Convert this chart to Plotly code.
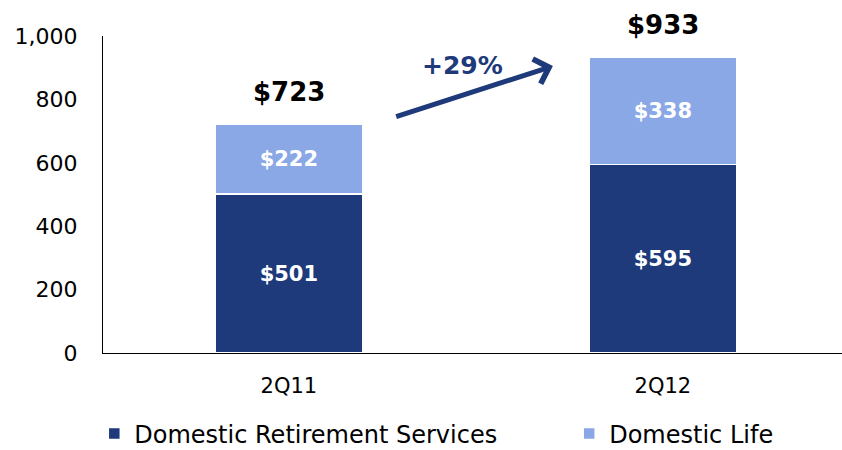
import plotly.graph_objects as go

categories = ["2Q11", "2Q12"]
retirement = [501, 595]
life = [222, 338]
totals = [723, 933]
growth_label = "+29%"
y_ticks = [0, 200, 400, 600, 800, 1000]
y_tick_labels = ["0", "200", "400", "600", "800", "1,000"]

DARK = "#1E3A7B"
LIGHT = "#8AA8E6"
FONT = "DejaVu Sans"
CLEAR = "rgba(0,0,0,0)"

fig = go.Figure()
fig.add_trace(go.Bar(
    x=categories, y=retirement, name="Domestic Retirement Services",
    marker=dict(color=DARK, line=dict(color="white", width=1.5)),
    text=["$" + str(v) for v in retirement], textposition="inside",
    insidetextanchor="middle",
    textfont=dict(color="white", size=21, family=FONT, weight="bold"),
    width=0.393, legend="legend",
))
fig.add_trace(go.Bar(
    x=categories, y=life, name="Domestic Life",
    marker=dict(color=LIGHT, line=dict(color="white", width=1.5)),
    text=["$" + str(v) for v in life], textposition="inside",
    insidetextanchor="middle",
    textfont=dict(color="white", size=21, family=FONT, weight="bold"),
    width=0.393, legend="legend2",
))

for c, t in zip(categories, totals):
    fig.add_annotation(x=c, y=t, text="$" + str(t), showarrow=False,
                       yanchor="bottom", yshift=15,
                       font=dict(size=26, color="black", family=FONT, weight="bold"))

# growth arrow
fig.add_annotation(x=0.706, y=905, ax=0.283, ay=744, xref="x", yref="y",
                   axref="x", ayref="y", text="", showarrow=True,
                   arrowhead=4, arrowsize=1.0, arrowwidth=5, arrowcolor=DARK)
fig.add_annotation(x=0.465, y=908, xref="x", yref="y", text=growth_label,
                   showarrow=False,
                   font=dict(size=25, color=DARK, family=FONT, weight="bold"))

legend_common = dict(orientation="h", xref="container", xanchor="left",
                     y=0.036, yref="container", yanchor="middle",
                     font=dict(size=24), itemwidth=30, bgcolor=CLEAR,
                     borderwidth=0, tracegroupgap=0)

fig.update_layout(
    barmode="stack", width=842, height=450,
    margin=dict(l=103, r=0, t=36, b=97),
    plot_bgcolor="white", paper_bgcolor="white",
    font=dict(family=FONT, size=21, color="black"),
    showlegend=True,
    legend=dict(x=0.112, **legend_common),
    legend2=dict(x=0.676, **legend_common),
    xaxis=dict(range=[-0.497, 1.479], showline=True, linecolor="black", linewidth=1,
               ticks="outside", ticklen=14, tickcolor=CLEAR,
               tickfont=dict(size=21), automargin=False),
    yaxis=dict(range=[0, 1000], tickvals=y_ticks, ticktext=y_tick_labels,
               showline=True, linecolor="black", linewidth=1, showgrid=False,
               ticks="outside", ticklen=20, tickcolor=CLEAR,
               tickfont=dict(size=22), zeroline=False, automargin=False),
)

fig.write_html("out.html", config={"displayModeBar": False},
               post_script="document.body.style.margin='0';document.body.style.overflow='hidden';")
